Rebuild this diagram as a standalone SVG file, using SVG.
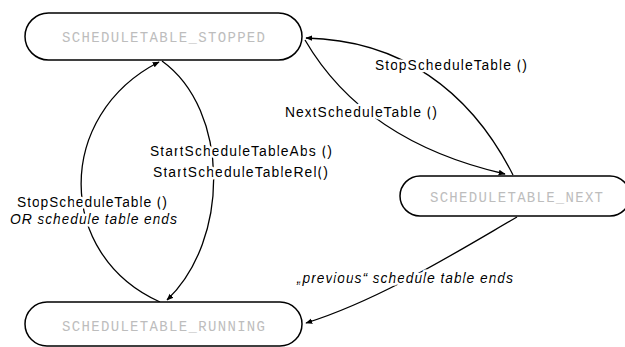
<svg xmlns="http://www.w3.org/2000/svg" width="625" height="347" viewBox="0 0 625 347">
<style>
.node{fill:#fff;stroke:#000;stroke-width:1.5}
.nt{font-family:"Liberation Mono",monospace;font-size:14px;fill:#bdbdbd}
.edge{fill:none;stroke:#000;stroke-width:1.3;marker-end:url(#ah)}
.lbl{font-family:"Liberation Sans",Arial,sans-serif;font-size:14px;fill:#000;stroke:#fff;stroke-width:5;paint-order:stroke;stroke-linejoin:round}
.it{font-style:italic}
</style>
<defs>
<marker id="ah" viewBox="0 0 10 10" refX="9" refY="5" markerWidth="7" markerHeight="7" orient="auto" markerUnits="userSpaceOnUse">
<path d="M0,1 L10,5 L0,9 Z" fill="#000"/>
</marker>
</defs>
<rect width="625" height="347" fill="#fff"/>
<g id="connectors">
<path class="edge" d="M160,302 C55,255 55,115 159,62"/>
<path class="edge" d="M162,61 C230,110 230,240 167,300"/>
<path class="edge" d="M513,175 C470,90 400,40 306,38"/>
<path class="edge" d="M305,40 C340,100 400,150 505,174"/>
<path class="edge" d="M517,217 C460,250 380,300 306,323"/>
</g>
<g id="labels">
<text class="lbl" x="375" y="70" textLength="152" lengthAdjust="spacing">StopScheduleTable ()</text>
<text class="lbl" x="285" y="117" textLength="152" lengthAdjust="spacing">NextScheduleTable ()</text>
<text class="lbl" x="150" y="156" textLength="182" lengthAdjust="spacing">StartScheduleTableAbs ()</text>
<text class="lbl" x="153" y="177" textLength="175" lengthAdjust="spacing">StartScheduleTableRel()</text>
<text class="lbl" x="17" y="207" textLength="150" lengthAdjust="spacing">StopScheduleTable ()</text>
<text class="lbl it" x="10" y="224" textLength="167" lengthAdjust="spacing">OR schedule table ends</text>
<text class="lbl it" x="297" y="283" textLength="216" lengthAdjust="spacing">„previous“ schedule table ends</text>
</g>
<g id="stopped">
<rect class="node" x="25" y="13" width="277" height="47" rx="23.5"/>
<text class="nt" x="62" y="42" textLength="203" lengthAdjust="spacing">SCHEDULETABLE_STOPPED</text>
</g>
<g id="next">
<rect class="node" x="400" y="176" width="230" height="40" rx="20"/>
<text class="nt" x="430" y="202" textLength="173" lengthAdjust="spacing">SCHEDULETABLE_NEXT</text>
</g>
<g id="running">
<rect class="node" x="25" y="302" width="277" height="44" rx="22"/>
<text class="nt" x="62" y="331" textLength="203" lengthAdjust="spacing">SCHEDULETABLE_RUNNING</text>
</g>
</svg>
